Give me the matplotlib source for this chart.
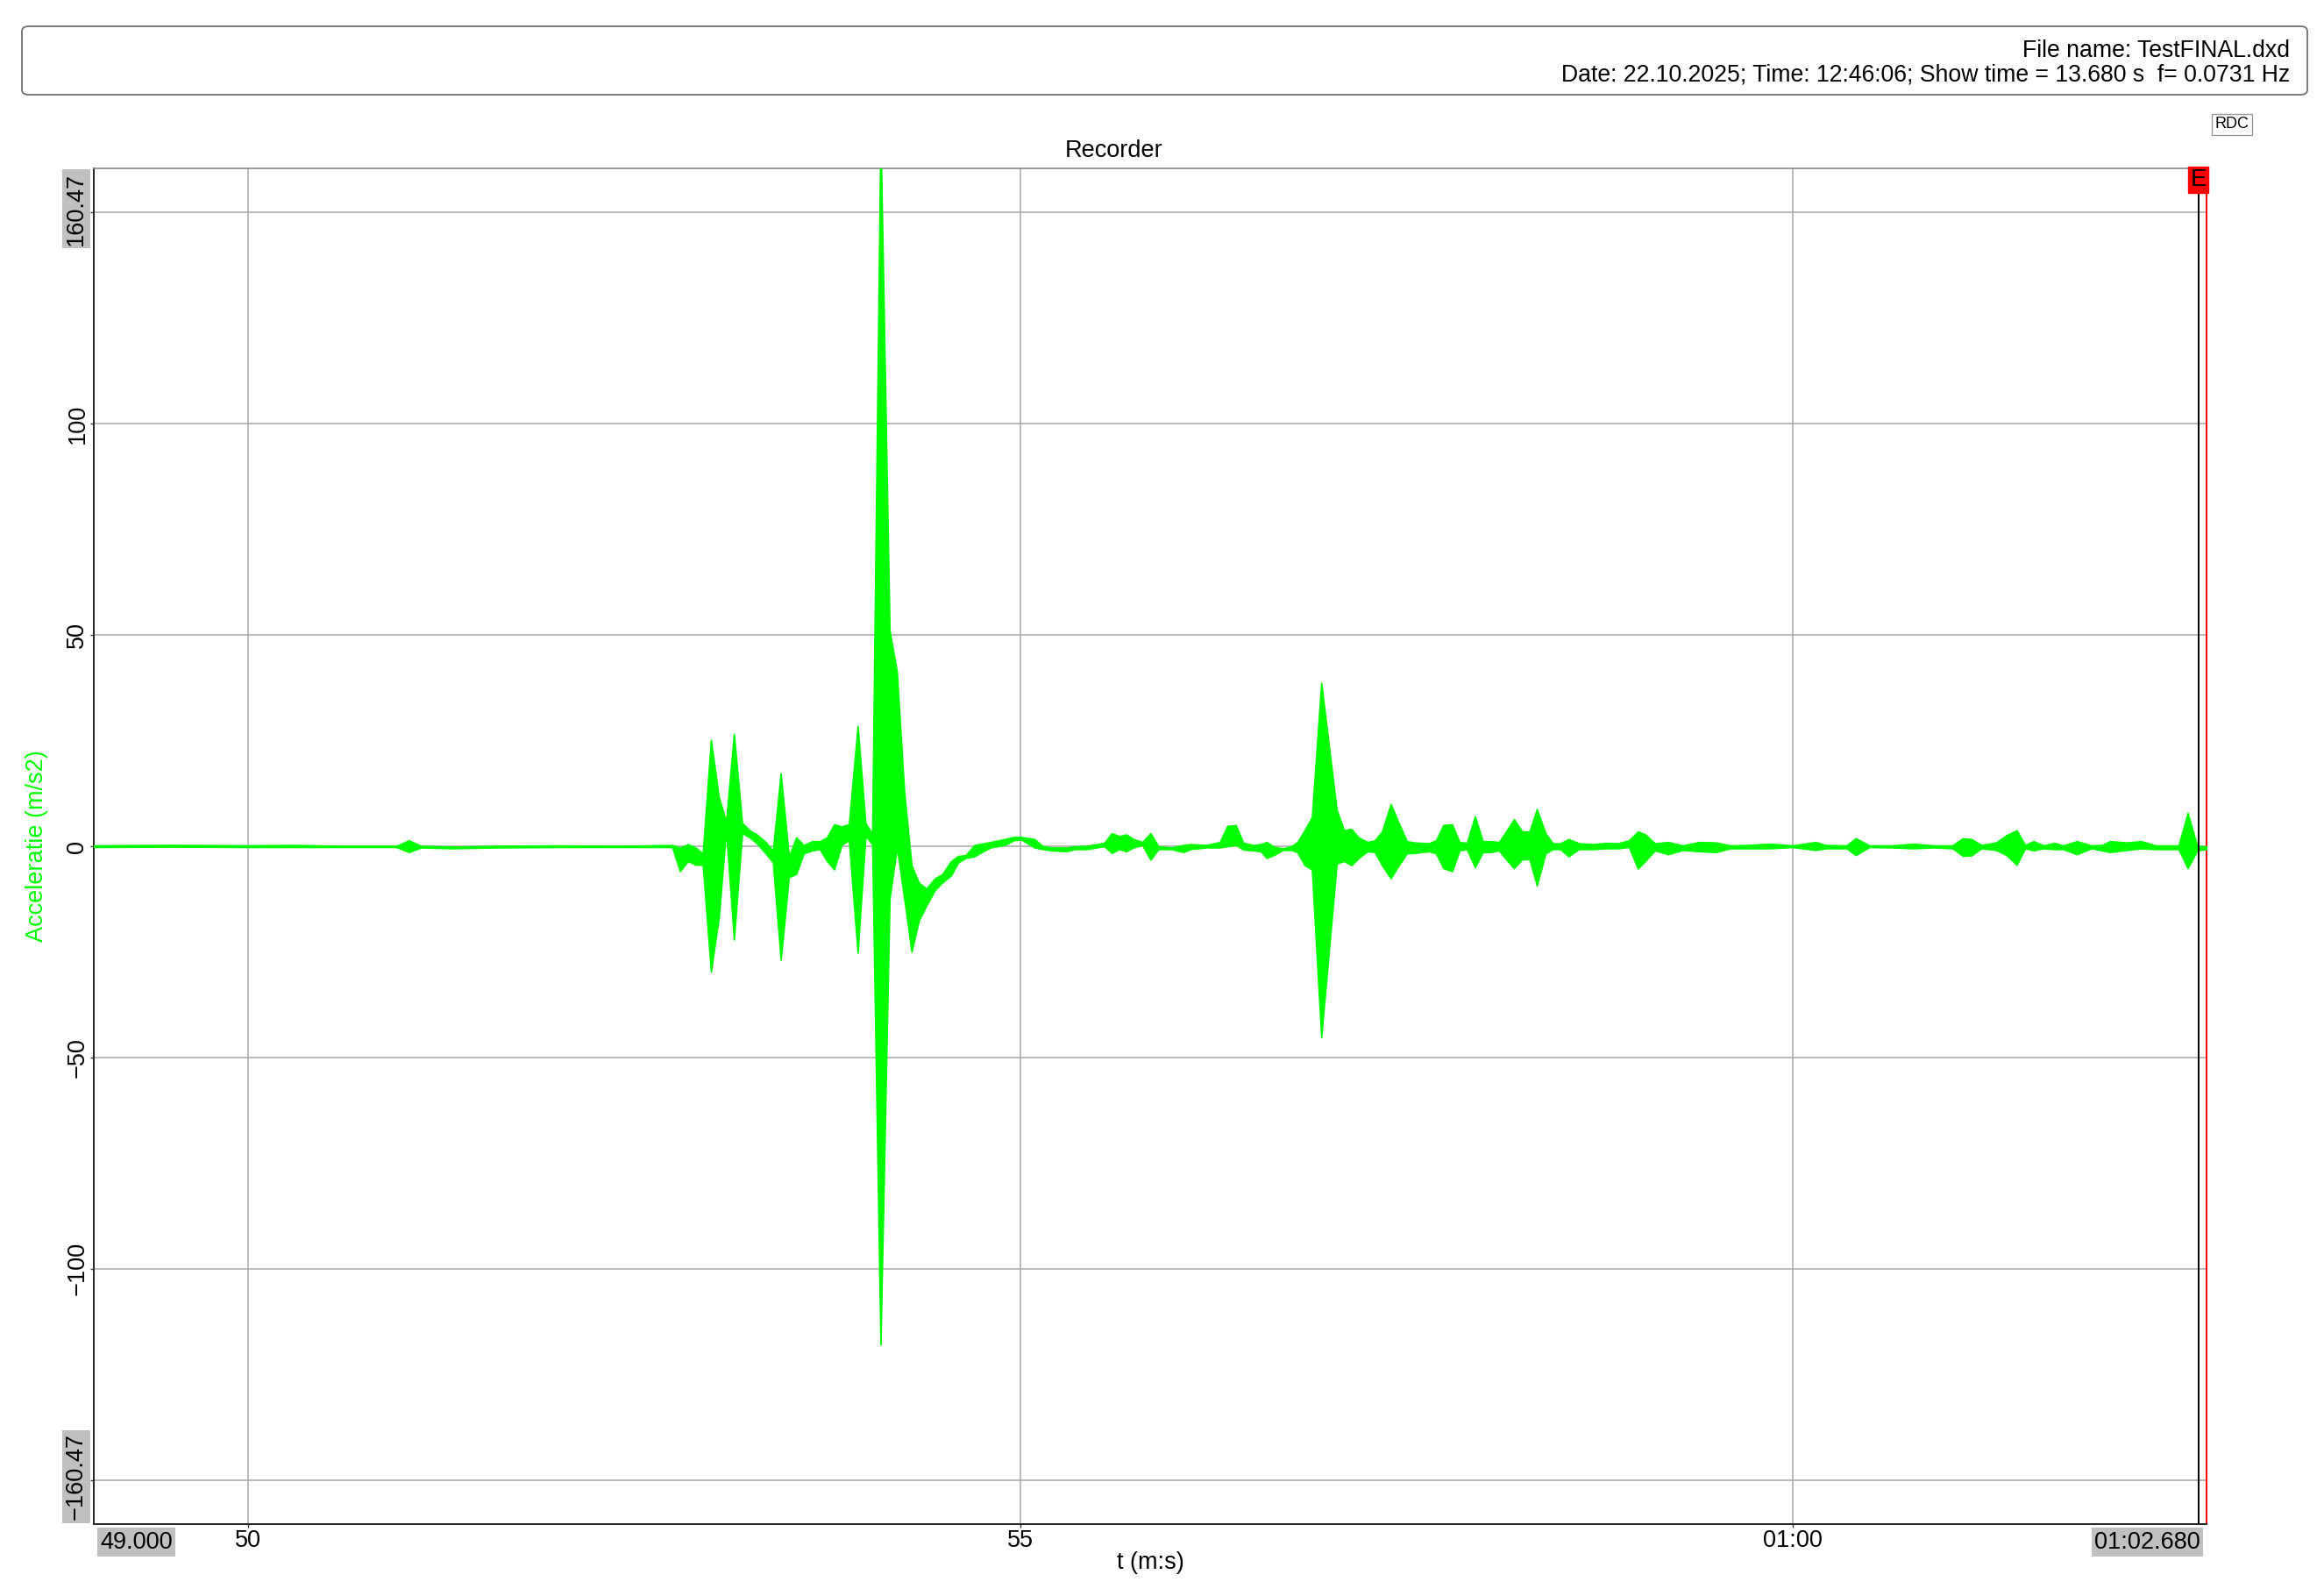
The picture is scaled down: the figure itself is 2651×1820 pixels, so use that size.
import matplotlib
matplotlib.use('Agg')
import matplotlib.pyplot as plt
from matplotlib.patches import FancyBboxPatch

plt.rcParams['font.family'] = ['Liberation Sans', 'DejaVu Sans']

# envelope of the recorded acceleration (min/max per display column)
t_sec = [49.00, 49.50, 50.00, 50.29, 50.60, 50.96, 51.04, 51.12, 51.32, 51.60,
         52.00, 52.40, 52.59, 52.745, 52.795, 52.848, 52.896, 52.943, 52.996, 53.047,
         53.094, 53.145, 53.198, 53.246, 53.293, 53.350, 53.397, 53.448, 53.501, 53.548,
         53.596, 53.652, 53.700, 53.747, 53.794, 53.842, 53.889, 53.946, 53.997, 54.040,
         54.094, 54.153, 54.200, 54.248, 54.295, 54.342, 54.390, 54.446, 54.494, 54.551,
         54.598, 54.645, 54.702, 54.749, 54.806, 54.900, 54.957, 55.004, 55.090, 55.146,
         55.203, 55.297, 55.354, 55.430, 55.543, 55.591, 55.638, 55.685, 55.732, 55.789,
         55.842, 55.893, 55.978, 56.054, 56.101, 56.205, 56.291, 56.339, 56.395, 56.443,
         56.509, 56.556, 56.594, 56.641, 56.698, 56.755, 56.793, 56.840, 56.887, 56.948,
         57.048, 57.095, 57.143, 57.190, 57.247, 57.294, 57.341, 57.398, 57.445, 57.502,
         57.549, 57.644, 57.691, 57.738, 57.795, 57.843, 57.890, 57.943, 57.994, 58.041,
         58.098, 58.145, 58.196, 58.249, 58.296, 58.344, 58.400, 58.447, 58.495, 58.549,
         58.616, 58.710, 58.790, 58.870, 58.940, 58.998, 59.046, 59.108, 59.194, 59.288,
         59.395, 59.503, 59.597, 59.704, 59.852, 60.000, 60.148, 60.215, 60.349, 60.408,
         60.497, 60.645, 60.779, 60.914, 61.035, 61.102, 61.156, 61.223, 61.317, 61.384,
         61.451, 61.505, 61.559, 61.626, 61.693, 61.752, 61.841, 61.935, 62.002, 62.056,
         62.163, 62.257, 62.351, 62.499, 62.558, 62.620, 62.680]

acc_max = [0.2, 0.3, 0.2, 0.3, 0.1, 0.1, 1.4, 0.1, -0.1, 0.1,
           0.2, 0.1, 0.2, 0.3, -0.3, 0.5, -0.3, -1.7, 25.2, 11.7,
           5.9, 26.6, 5.5, 3.8, 2.8, 1.0, -1.0, 17.3, -2.4, 2.1,
           0.3, 1.2, 1.2, 2.1, 5.2, 4.7, 5.2, 28.5, 5.5, 3.0,
           170.0, 51.1, 41.4, 12.8, -4.5, -8.6, -10.0, -7.6, -6.6, -3.5,
           -2.3, -2.1, 0.3, 0.6, 1.0, 1.7, 2.2, 2.2, 1.7, 0.0,
           -0.3, -0.3, 0.0, 0.1, 0.8, 3.1, 2.4, 2.8, 1.7, 1.0,
           3.1, 0.0, -0.3, 0.3, 0.5, 0.3, 1.0, 4.8, 5.0, 0.8,
           0.3, 0.5, 1.0, -0.1, -0.5, 0.0, 1.0, 3.8, 6.9, 38.7,
           8.6, 3.8, 4.1, 2.1, 1.0, 1.4, 3.5, 10.0, 5.9, 1.2,
           0.9, 0.7, 1.4, 5.0, 5.2, 1.0, 0.8, 7.1, 1.2, 1.2,
           1.0, 3.5, 6.4, 3.5, 3.5, 8.8, 3.1, 0.7, 0.7, 1.7,
           0.7, 0.5, 0.8, 0.7, 1.4, 3.5, 2.8, 0.7, 1.0, 0.2,
           1.0, 0.9, 0.2, 0.3, 0.6, 0.2, 1.0, 0.3, 0.2, 1.9,
           0.2, 0.2, 0.6, 0.2, 0.2, 1.9, 1.7, 0.3, 0.9, 2.6,
           3.8, 0.3, 1.2, 0.2, 0.8, 0.2, 1.2, 0.2, 0.3, 1.2,
           0.9, 1.2, 0.2, 0.2, 7.9, 0.0, 0.0]

acc_min = [-0.2, -0.1, -0.2, -0.2, -0.2, -0.2, -1.4, -0.3, -0.5, -0.3,
           -0.2, -0.2, -0.2, -0.2, -5.9, -3.5, -4.4, -4.4, -29.7, -16.9,
           3.8, -22.1, 3.1, 2.1, 0.7, -1.7, -3.8, -26.9, -7.3, -6.6,
           -1.7, -1.0, -0.7, -3.5, -5.5, 0.3, 1.4, -25.2, 2.4, 0.5,
           -118.0, -12.4, -0.3, -12.5, -25.0, -17.6, -14.1, -10.4, -8.6, -6.9,
           -3.8, -2.8, -2.4, -1.4, -0.3, 0.3, 1.4, 1.6, -0.3, -0.7,
           -1.0, -1.2, -0.7, -0.7, 0.0, -1.6, -0.7, -1.2, -0.3, 0.3,
           -3.2, -0.7, -0.7, -1.4, -0.7, -0.3, -0.3, 0.0, 0.3, -0.8,
           -1.0, -1.2, -2.8, -2.1, -0.9, -0.9, -1.4, -4.5, -5.5, -45.2,
           -4.1, -3.5, -4.5, -2.8, -1.2, -1.4, -4.5, -7.6, -4.8, -1.7,
           -1.6, -1.2, -1.7, -5.2, -5.9, -1.0, -0.7, -5.0, -1.4, -1.4,
           -1.0, -3.1, -5.2, -3.1, -3.1, -9.3, -1.7, -0.7, -0.7, -2.4,
           -0.7, -0.7, -0.5, -0.5, -0.2, -5.3, -3.5, -1.0, -1.9, -0.9,
           -1.2, -1.4, -0.5, -0.5, -0.5, -0.2, -0.9, -0.5, -0.5, -2.1,
           -0.2, -0.3, -0.5, -0.3, -0.5, -2.3, -2.2, -0.5, -0.9, -2.1,
           -4.4, -0.5, -1.0, -0.5, -0.7, -0.7, -1.9, -0.5, -1.0, -1.4,
           -0.9, -0.5, -0.7, -0.7, -5.2, -1.0, -0.7]

x_ticks = [50, 55, 60]
x_tick_labels = ['50', '55', '01:00']
y_ticks = [-150, -100, -50, 0, 50, 100, 150]
y_tick_labels = ['', '\u2212100', '\u221250', '0', '50', '100', '']
t_start, t_end = 49.000, 62.680
y_lim = 160.47
cursor_t = 62.627

W, H = 2651, 1820
fs = 19.5
fig = plt.figure(figsize=(W / 100, H / 100), dpi=100)
ax = fig.add_axes([107 / W, 1 - 1738 / H, (2517 - 107) / W, (1738 - 192) / H])

green = '#00ff00'
ax.fill_between(t_sec, acc_min, acc_max, color=green, lw=1.2, edgecolor=green, zorder=3)

ax.set_xlim(t_start, t_end)
ax.set_ylim(-y_lim, y_lim)
ax.set_xticks(x_ticks)
ax.set_xticklabels(x_tick_labels)
ax.set_yticks(y_ticks)
ax.set_yticklabels(y_tick_labels, rotation=90, va='center')
ax.tick_params(axis='both', labelsize=fs, length=3, width=1, color='#333333', pad=1)
ax.grid(True, color='#a8a8a8', lw=1.1, zorder=0)

for side in ['left', 'bottom']:
    ax.spines[side].set_color('#222222')
    ax.spines[side].set_linewidth(1.4)
ax.spines['top'].set_color('#888888')
ax.spines['top'].set_linewidth(1.2)
ax.spines['right'].set_color('red')
ax.spines['right'].set_linewidth(1.4)

ax.axvline(cursor_t, color='black', lw=1.4, zorder=4)
ax.text(cursor_t, y_lim, 'E', ha='center', va='top', fontsize=20, zorder=5,
        bbox=dict(boxstyle='square,pad=0.08', fc='red', ec='red'))

# axis end values in grey boxes
grey = dict(boxstyle='square,pad=0.12', fc='#c0c0c0', ec='none')
ax.text(-0.003, 0.997, '160.47', transform=ax.transAxes, rotation=90,
        ha='right', va='top', fontsize=fs, bbox=grey)
ax.text(-0.003, 0.003, '\u2212160.47', transform=ax.transAxes, rotation=90,
        ha='right', va='bottom', fontsize=fs, bbox=grey)
ax.text(0.003, -0.005, '49.000', transform=ax.transAxes,
        ha='left', va='top', fontsize=fs, bbox=grey)
ax.text(0.997, -0.005, '01:02.680', transform=ax.transAxes,
        ha='right', va='top', fontsize=fs, bbox=grey)

fig.text(42 / W, 1 - 965 / H, 'Acceleratie (m/s2)', color=green, rotation=90,
         ha='center', va='center', fontsize=fs)
fig.text(1312 / W, 1 - 1782 / H, 't (m:s)', ha='center', va='center', fontsize=fs)
fig.text(1271 / W, 1 - 172 / H, 'Recorder', ha='center', va='center', fontsize=fs)

# header box
fig.patches.append(FancyBboxPatch((25 / W, 1 - 108 / H), (2632 - 25) / W, 78 / H,
                                  boxstyle='round,pad=0,rounding_size=0.003',
                                  transform=fig.transFigure, fc='white',
                                  ec='#707070', lw=1.3))
fig.text(2612 / W, 1 - 58 / H, 'File name: TestFINAL.dxd',
         ha='right', va='center', fontsize=19.2)
fig.text(2612 / W, 1 - 86 / H,
         'Date: 22.10.2025; Time: 12:46:06; Show time = 13.680 s  f= 0.0731 Hz',
         ha='right', va='center', fontsize=19.2)
fig.text(2546 / W, 1 - 142 / H, 'RDC', ha='center', va='center', fontsize=13,
         bbox=dict(boxstyle='square,pad=0.2', fc='white', ec='#999999', lw=1))

fig.savefig('out.png', dpi=100)
